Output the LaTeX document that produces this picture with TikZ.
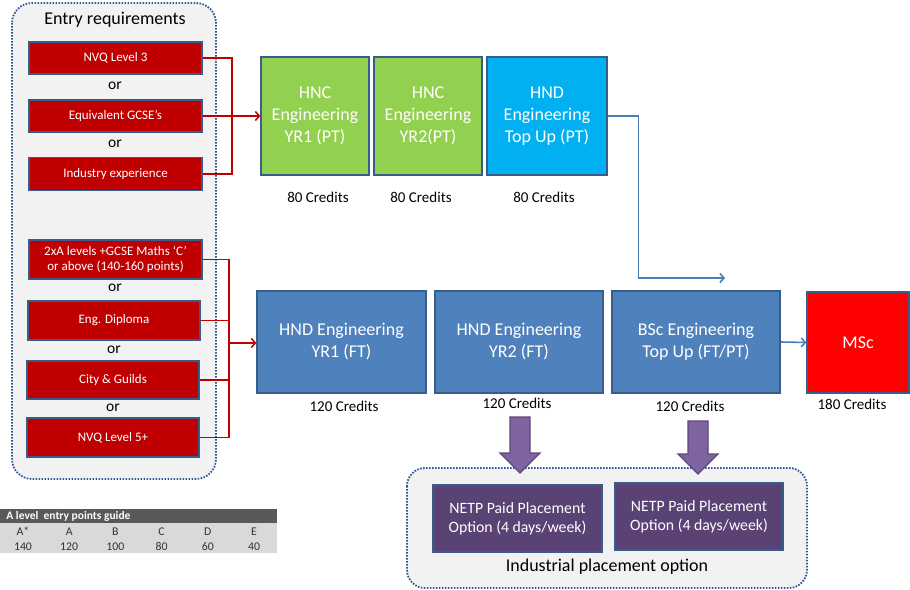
\documentclass[tikz,border=0pt]{standalone}
\usepackage{fontspec}
\setmainfont{Carlito}
\usetikzlibrary{arrows.meta,positioning,calc}
\definecolor{reqred}{HTML}{C00000}
\definecolor{edgeblue}{HTML}{385D8A}
\definecolor{dotblue}{HTML}{2F5597}
\definecolor{hncgreen}{HTML}{92D050}
\definecolor{topcyan}{HTML}{00B0F0}
\definecolor{hndblue}{HTML}{4F81BD}
\definecolor{lineblue}{HTML}{4A7EBB}
\definecolor{mscred}{HTML}{FF0000}
\definecolor{netppurple}{HTML}{5B4274}
\definecolor{arrowpurple}{HTML}{8064A2}
\definecolor{arrowedge}{HTML}{5C4776}
\definecolor{groupgray}{HTML}{F2F2F2}
\definecolor{headgray}{HTML}{595959}
\definecolor{rowgray}{HTML}{D9D9D9}
\tikzset{every picture/.style={line width=0.75pt}}
\tikzset{
  groupbox/.style={draw=dotblue, fill=groupgray, line width=1.8pt,
    dash pattern=on 1.6pt off 1.4pt, rounded corners=20pt},
  reqbox/.style={draw=edgeblue, fill=reqred, line width=1.3pt, text=white,
    font=\fontsize{13}{15.5}\selectfont, align=center, inner sep=0pt},
  stagebox/.style={draw=edgeblue, line width=1.3pt, text=white,
    font=\fontsize{18}{22}\selectfont, align=center, inner sep=0pt},
  netpbox/.style={draw=edgeblue, fill=netppurple, line width=1.3pt, text=white,
    font=\fontsize{15.8}{19}\selectfont, align=center, inner sep=0pt,
    minimum height=67pt},
  ortext/.style={font=\fontsize{15.5}{18}\selectfont},
  credit/.style={font=\fontsize{15}{18}\selectfont},
  redline/.style={draw=reqred, line width=1.5pt},
  blueline/.style={draw=lineblue, line width=1.6pt},
  purarrow/.style={draw=arrowedge, fill=arrowpurple, line width=1.2pt},
  cell/.style={font=\fontsize{11.8}{13}\selectfont, text=black!80, inner sep=0pt, anchor=base}
}

\begin{document}
\begin{tikzpicture}[x=1pt, y=-1pt]
    \useasboundingbox (0,0) rectangle (910,589);

    % entry requirements group
    \draw[groupbox] (12,3) rectangle (216,479);
    \node[font=\fontsize{18}{21}\selectfont] (entrytitle) at (115,20) {Entry requirements};

    \node[reqbox, minimum width=173pt, minimum height=32pt] (nvqthree) at (115.5,58) {NVQ Level 3};
    \node[ortext] (orA) at (115,86) {or};
    \node[reqbox, minimum width=173pt, minimum height=32pt] (gcse) at (115.5,116) {Equivalent GCSE’s};
    \node[ortext] (orB) at (115,144) {or};
    \node[reqbox, minimum width=173pt, minimum height=33pt] (industry) at (115.5,174) {Industry experience};

    \node[reqbox, minimum width=173pt, minimum height=39pt] (alevel) at (115.5,259.5)
        {2xA levels +GCSE Maths ‘C’\\or above (140-160\ points)};
    \node[ortext] (orC) at (115,288) {or};
    \node[reqbox, minimum width=172pt, minimum height=39pt] (diploma) at (114,320.5) {Eng. Diploma};
    \node[ortext] (orD) at (114,350) {or};
    \node[reqbox, minimum width=172pt, minimum height=38pt] (guilds) at (113,380) {City \& Guilds};
    \node[ortext] (orE) at (113,408) {or};
    \node[reqbox, minimum width=172pt, minimum height=39pt] (nvqfive) at (113,437.5) {NVQ Level 5+};

    % part time route
    \node[stagebox, fill=hncgreen, minimum width=108pt, minimum height=118pt] (hncone) at (315,116)
        {HNC\\Engineering\\YR1 (PT)};
    \node[stagebox, fill=hncgreen, minimum width=108pt, minimum height=118pt] (hnctwo) at (428,116)
        {HNC\\Engineering\\YR2(PT)};
    \node[stagebox, fill=topcyan, minimum width=120pt, minimum height=118pt] (hndtop) at (547,116)
        {HND\\Engineering\\Top Up (PT)};
    \node[credit] (crA) at (318,197) {80 Credits};
    \node[credit] (crB) at (421,197) {80 Credits};
    \node[credit] (crC) at (544,197) {80 Credits};

    % full time route
    \node[stagebox, fill=hndblue, minimum width=169pt, minimum height=102pt] (hndone) at (341.5,342)
        {HND Engineering\\YR1 (FT)};
    \node[stagebox, fill=hndblue, minimum width=168pt, minimum height=102pt] (hndtwo) at (519,342)
        {HND Engineering\\YR2 (FT)};
    \node[stagebox, fill=hndblue, minimum width=168pt, minimum height=102pt] (bsc) at (696,342)
        {BSc Engineering\\Top Up (FT/PT)};
    \node[stagebox, fill=mscred, minimum width=102pt, minimum height=101pt] (msc) at (858,342.5) {MSc};
    \node[credit] (crD) at (344,406) {120 Credits};
    \node[credit] (crE) at (517,403) {120 Credits};
    \node[credit] (crF) at (690,406) {120 Credits};
    \node[credit] (crG) at (852,404) {180 Credits};

    % red brackets
    \draw[redline] (nvqthree.east) -| (232,174) -- (industry.east);
    \draw[redline, -{Straight Barb[length=4pt,width=9pt]}] (gcse.east) -- (hncone.west);
    \draw[redline] (alevel.east) -| (229,437.5) -- (nvqfive.east);
    \draw[redline] (diploma.east) -- (229,320.5);
    \draw[redline] (guilds.east) -- (229,380);
    \coordinate (brB) at (229,343);
    \draw[redline, -{Straight Barb[length=4pt,width=9pt]}] (brB) -- (brB -| hndone.west);

    % blue connectors
    \coordinate (topin) at (725,278);
    \draw[blueline, -{Straight Barb[length=4pt,width=9pt]}] (hndtop.east) -- ++(31,0) |- (topin);
    \draw[blueline, -{Straight Barb[length=4pt,width=9pt]}] (bsc.east) -- (msc.west);

    % industrial placement
    \draw[groupbox, rounded corners=18pt] (407,468) rectangle (807,588);
    \draw[purarrow] (510,417) -- (530,417) -- (530,453) -- (540,453) -- (520,473) -- (500,453) -- (510,453) -- cycle;
    \draw[purarrow] (688,421) -- (708,421) -- (708,454) -- (718,454) -- (698,474) -- (678,454) -- (688,454) -- cycle;
    \node[netpbox, minimum width=169pt] (netpA) at (517.5,518.5) {NETP Paid Placement\\Option (4 days/week)};
    \node[netpbox, minimum width=168pt] (netpB) at (699,516.5) {NETP Paid Placement\\Option (4 days/week)};
    \node[font=\fontsize{18}{21}\selectfont] (placelabel) at (607,567) {Industrial placement option};

    % points guide
    \fill[headgray] (0,509) rectangle (277,523);
    \fill[rowgray] (0,523) rectangle (277,553);
    \node[anchor=west, text=white, font=\bfseries\fontsize{11.5}{12}\selectfont, inner sep=0pt] (guide)
        at (6,516) {A level\ \ entry points guide};
    \foreach \g/\p [count=\i] in {A*/140, A/120, B/100, C/80, D/60, E/40}
        \node[cell] (pt\i) at ({23+46.2*(\i-1)},535) {\g} node[cell] at ({23+46.2*(\i-1)},550) {\p};
\end{tikzpicture}
\end{document}
